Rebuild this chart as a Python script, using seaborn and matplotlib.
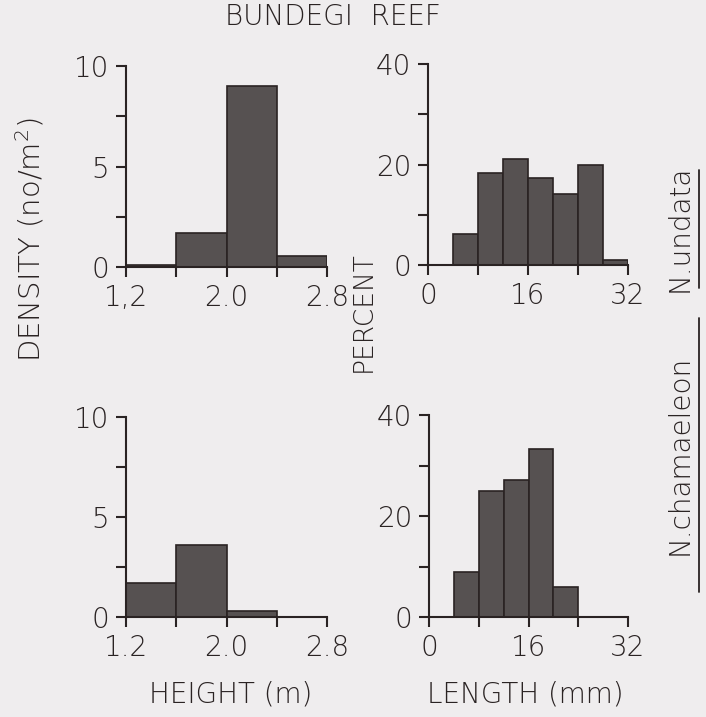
import matplotlib
matplotlib.use("Agg")
import matplotlib.pyplot as plt
import seaborn as sns
from matplotlib.lines import Line2D

# --- data ---
height_edges_top = [1.2, 1.6, 2.0, 2.4, 2.8]
undata_density = [0.1, 1.7, 9.0, 0.55]
height_edges_bottom = [1.2, 1.6, 2.0, 2.4]
chamaeleon_density = [1.7, 3.6, 0.3]

length_edges_top = [4, 8, 12, 16, 20, 24, 28, 32]
undata_percent = [6.2, 18.3, 21.0, 17.3, 14.1, 20.0, 1.0]
length_edges_bottom = [4, 8, 12, 16, 20, 24]
chamaeleon_percent = [8.9, 25.0, 27.1, 33.3, 6.0]

height_ticks = [1.2, 2.0, 2.8]
height_minor = [1.6, 2.4]
length_ticks = [0, 16, 32]
length_minor = [8, 24]
density_ticks = [0, 5, 10]
density_minor = [2.5, 7.5]
percent_ticks = [0, 20, 40]
percent_minor = [10, 30]

BG = "#efedee"
INK = "#2a2323"
BAR = "#565151"

sns.set_theme(style="ticks")
plt.rcParams["font.family"] = ["DejaVu Sans"]
plt.rcParams["font.weight"] = "light"
plt.rcParams["mathtext.default"] = "regular"
plt.rcParams["text.color"] = INK
plt.rcParams["xtick.color"] = INK
plt.rcParams["ytick.color"] = INK
FS = 20

fig = plt.figure(figsize=(7.06, 7.17), dpi=100, facecolor=BG)

W, H = 706, 717
def box(x0, y0, x1, y1):
    return [x0 / W, 1 - y1 / H, (x1 - x0) / W, (y1 - y0) / H]

panels = [
    (box(126, 66, 327, 267), height_edges_top, undata_density,
     (1.2, 2.8), (0, 10), height_ticks, ["1,2", "2.0", "2.8"], height_minor,
     density_ticks, density_minor),
    (box(428, 64, 628, 265), length_edges_top, undata_percent,
     (0, 32), (0, 40), length_ticks, ["0", "16", "32"], length_minor,
     percent_ticks, percent_minor),
    (box(126, 417, 327, 617), height_edges_bottom, chamaeleon_density,
     (1.2, 2.8), (0, 10), height_ticks, ["1.2", "2.0", "2.8"], height_minor,
     density_ticks, density_minor),
    (box(429, 415, 628, 617), length_edges_bottom, chamaeleon_percent,
     (0, 32), (0, 40), length_ticks, ["0", "16", "32"], length_minor,
     percent_ticks, percent_minor),
]

for rect, edges, vals, xlim, ylim, xt, xtl, xm, yt, ym in panels:
    ax = fig.add_axes(rect)
    ax.set_facecolor(BG)
    sns.histplot(x=edges[:-1], weights=vals, bins=edges, ax=ax,
                 color=BAR, edgecolor=INK, linewidth=1.2, alpha=1)
    ax.set_xlim(*xlim)
    ax.set_ylim(*ylim)
    ax.set_xticks(xt)
    ax.set_xticklabels(xtl)
    ax.set_xticks(xm, minor=True)
    ax.set_yticks(yt)
    ax.set_yticks(ym, minor=True)
    ax.set_xlabel("")
    ax.set_ylabel("")
    ax.tick_params(which="both", direction="out", length=7, width=1.5,
                   color=INK, labelsize=FS, pad=5)
    sns.despine(ax=ax)
    for s in ["left", "bottom"]:
        ax.spines[s].set_color(INK)
        ax.spines[s].set_linewidth(1.5)
    ax.grid(False)

fig.text(333 / W, 1 - 17 / H, "BUNDEGI  REEF", ha="center", va="center", fontsize=FS)
fig.text(30 / W, 1 - 240 / H, "DENSITY (no/m$^2$)", ha="center", va="center",
         rotation=90, fontsize=FS + 1)
fig.text(363 / W, 1 - 312 / H, "PERCENT", ha="center", va="center",
         rotation=90, fontsize=FS - 1)
fig.text(231 / W, 1 - 695 / H, "HEIGHT (m)", ha="center", va="center", fontsize=FS)
fig.text(525 / W, 1 - 695 / H, "LENGTH (mm)", ha="center", va="center", fontsize=FS)

fig.text(680 / W, 1 - 228 / H, "N.undata", ha="center", va="center",
         rotation=90, fontsize=FS)
fig.text(680 / W, 1 - 455 / H, "N.chamaeleon", ha="center", va="center",
         rotation=90, fontsize=FS)
# underlines of the species names
fig.add_artist(Line2D([699 / W, 699 / W], [1 - 288 / H, 1 - 170 / H],
                      color=INK, lw=1.3))
fig.add_artist(Line2D([699 / W, 699 / W], [1 - 592 / H, 1 - 318 / H],
                      color=INK, lw=1.3))

fig.savefig("out.png", dpi=100, facecolor=BG)
